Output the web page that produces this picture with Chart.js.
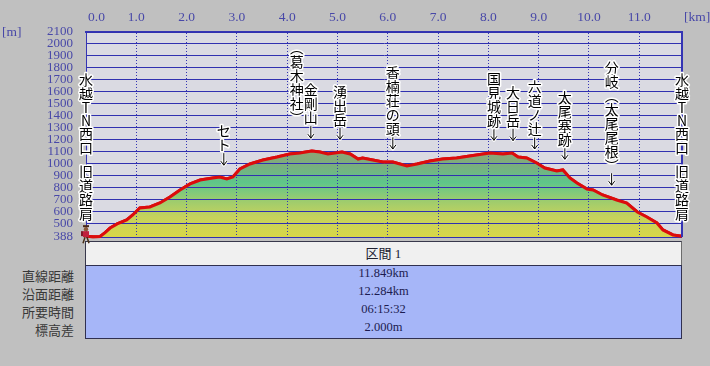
<!DOCTYPE html>
<html lang="ja">
<head>
<meta charset="utf-8">
<title>断面図</title>
<script src="https://cdn.jsdelivr.net/npm/chart.js@4.4.1/dist/chart.umd.min.js"></script>
<style>
  html, body { margin:0; padding:0; background:#c0c0c0; width:710px; height:366px; overflow:hidden; }
  #wrap { position:relative; width:710px; height:366px; }
  #grafica { position:absolute; left:0; top:0; z-index:2; pointer-events:none; }
  #cabecera { position:absolute; left:85px; top:241px; width:595px; height:23px; background:#f0f0f0;
      border:1px solid #38384c; border-right-color:#6c6c6c; border-bottom-color:#808080;
      font:13px "Liberation Serif","Noto Sans CJK JP"; color:#202030; text-align:center; line-height:23px; }
  #cuerpo { position:absolute; left:85px; top:265px; width:595px; height:72px; background:#a6b6f8;
      border:1px solid #303050; }
  #cuerpo div { height:18px; line-height:18px; text-align:center; font:12.5px "Liberation Serif"; color:#1c1c50; }
  #titulos { position:absolute; left:0; top:266px; width:74px; }
  #titulos div { height:18px; line-height:18px; text-align:right; font:13px "Noto Sans CJK JP"; color:#383838; }
</style>
</head>
<body>
<div id="wrap">
  <div id="cabecera"></div>
  <div id="cuerpo"></div>
  <div id="titulos"></div>
  <canvas id="grafica" width="710" height="366"></canvas>
</div>
<script>
// ── DATOS ─────────────────────────────────────────────
const distKm = [0.00, 0.14, 0.28, 0.38, 0.48, 0.62, 0.81, 0.93, 1.07, 1.27, 1.47, 1.67, 1.87, 2.07, 2.27,
                2.52, 2.66, 2.80, 2.92, 3.06, 3.26, 3.52, 3.80, 4.05, 4.25, 4.49, 4.65, 4.81, 5.09, 5.25,
                5.41, 5.50, 5.70, 5.90, 6.10, 6.38, 6.58, 6.84, 7.09, 7.37, 7.63, 8.03, 8.29, 8.47, 8.59,
                8.76, 8.96, 9.12, 9.36, 9.48, 9.62, 9.76, 9.96, 10.08, 10.27, 10.55, 10.75, 10.96, 11.15,
                11.35, 11.47, 11.67, 11.849];
const elevM  = [395, 390, 392, 425, 463, 497, 530, 572, 630, 639, 672, 722, 781, 831, 864,
                881, 889, 872, 889, 956, 998, 1031, 1056, 1081, 1090, 1106, 1098, 1081, 1098, 1081,
                1039, 1048, 1031, 1014, 1014, 981, 998, 1023, 1039, 1048, 1064, 1090, 1081, 1090, 1056,
                1048, 1006, 964, 939, 948, 881, 839, 789, 781, 739, 697, 672, 597, 555,
                505, 447, 405, 395];

const totalKm = 11.849;
const kmTicks = [0, 1, 2, 3, 4, 5, 6, 7, 8, 9, 10, 11];
const mTicks  = [388, 500, 600, 700, 800, 900, 1000, 1100, 1200, 1300, 1400, 1500, 1600, 1700, 1800, 1900, 2000, 2100];

const puntoNombres = ['水越TN西口 旧道路肩', 'セト', '金剛山\n(葛木神社)', '湧出岳', '香楠荘の頭', '国見城跡',
                      '大日岳', '六道ノ辻', '太尾塞跡', '分岐(太尾尾根)', '水越TN西口 旧道路肩'];
const puntoKm      = [0, 2.74, 4.47, 5.05, 6.10, 8.11, 8.49, 8.92, 9.52, 10.45, 11.849];

const seccion      = '区間 1';
const filaTitulos  = ['直線距離', '沿面距離', '所要時間', '標高差'];
const filaValores  = ['11.849km', '12.284km', '06:15:32', '2.000m'];

// ── TABLA ─────────────────────────────────────────────
document.getElementById('cabecera').textContent = seccion;
document.getElementById('cuerpo').innerHTML  = filaValores.map(v => `<div>${v}</div>`).join('');
document.getElementById('titulos').innerHTML = filaTitulos.map(t => `<div>${t}</div>`).join('');

const AZUL = '#3434b4';
const TEXTO_EJE = '#4848a8';

function elevEn(km) {
    for (let i = 1; i < distKm.length; i++) {
        if (km <= distKm[i]) {
            const t = (km - distKm[i - 1]) / (distKm[i] - distKm[i - 1]);
            return elevM[i - 1] + t * (elevM[i] - elevM[i - 1]);
        }
    }
    return elevM[elevM.length - 1];
}

function relleno(context) {
    const chart = context.chart;
    if (!chart.chartArea) return null;
    const y = chart.scales.y;
    const g = chart.ctx.createLinearGradient(0, y.getPixelForValue(388), 0, y.getPixelForValue(1150));
    g.addColorStop(0.00, '#d8d648');
    g.addColorStop(0.22, '#c6d25c');
    g.addColorStop(0.40, '#9ccc6e');
    g.addColorStop(0.60, '#5ec68a');
    g.addColorStop(0.78, '#7aae7e');
    g.addColorStop(1.00, '#96a272');
    return g;
}

// ── TEXTO VERTICAL ────────────────────────────────────
function pasoDe(c) {
    if (c === ' ') return 10;
    if (/[A-Za-z]/.test(c)) return 13;
    return 14;
}
function columna(ctx, texto, x, yFondo) {
    const chars = [...texto.replace(/\(/g, '︵').replace(/\)/g, '︶')];
    const alto = chars.reduce((s, c) => s + pasoDe(c), 0);
    let y = yFondo - alto;
    chars.forEach(c => {
        const p = pasoDe(c);
        if (c !== ' ') {
            ctx.strokeText(c, x, y + p / 2);
            ctx.fillText(c, x, y + p / 2);
        }
        y += p;
    });
}
function flecha(ctx, x, punta) {
    const trazo = () => {
        ctx.beginPath();
        ctx.moveTo(x, punta - 12); ctx.lineTo(x, punta);
        ctx.moveTo(x - 3, punta - 4); ctx.lineTo(x, punta); ctx.lineTo(x + 3, punta - 4);
        ctx.stroke();
    };
    ctx.strokeStyle = '#ffffff'; ctx.lineWidth = 3; trazo();
    ctx.strokeStyle = '#000000'; ctx.lineWidth = 1; trazo();
}

const fondo = {
    id: 'fondo',
    beforeDraw(chart) {
        const { ctx, chartArea: a } = chart;
        ctx.save();
        ctx.fillStyle = '#dadae2';
        ctx.fillRect(a.left, a.top, a.right - a.left, a.bottom - a.top);
        ctx.restore();
    }
};

const extras = {
    id: 'extras',
    afterDraw(chart) {
        const { ctx, chartArea: a, scales: { x, y } } = chart;

        // linea roja encima de la cuadricula
        chart.getDatasetMeta(1).controller.draw();

        ctx.save();
        // borde derecho
        ctx.strokeStyle = AZUL; ctx.lineWidth = 2;
        ctx.beginPath(); ctx.moveTo(a.right, a.top); ctx.lineTo(a.right, a.bottom); ctx.stroke();

        // etiquetas km arriba
        ctx.fillStyle = TEXTO_EJE;
        ctx.font = '13.5px "Liberation Serif"';
        ctx.textBaseline = 'middle';
        kmTicks.forEach(v => {
            const px = x.getPixelForValue(v);
            ctx.textAlign = v === 0 ? 'left' : 'center';
            ctx.fillText(v.toFixed(1), v === 0 ? px + 2 : px, 17);
        });
        ctx.textAlign = 'left';
        ctx.fillText('[km]', 684, 17);
        ctx.fillText('[m]', 2, 32);

        // nombres de los puntos
        ctx.textAlign = 'center';
        ctx.textBaseline = 'middle';
        ctx.lineJoin = 'round';
        puntoNombres.forEach((nombre, i) => {
            const px = x.getPixelForValue(puntoKm[i]);
            const py = y.getPixelForValue(elevEn(puntoKm[i]));
            const extremo = i === 0 || i === puntoNombres.length - 1;
            const punta = py - 13;
            const base = extremo ? py - 15 : punta - 13;
            if (!extremo) flecha(ctx, px, punta);
            ctx.font = '14px "Noto Sans CJK JP"';
            ctx.strokeStyle = '#ffffff'; ctx.lineWidth = 3;
            ctx.fillStyle = '#000000';
            nombre.split('\n').forEach((col, k) => columna(ctx, col, px - k * 14, base));
        });

        // caminante al inicio
        const hx = x.getPixelForValue(distKm[0]);
        const hy = y.getPixelForValue(elevM[0]);
        ctx.fillStyle = '#4a2a18'; ctx.fillRect(hx - 3, hy - 11, 6, 2);
        ctx.fillStyle = '#8a5a3a'; ctx.beginPath(); ctx.arc(hx, hy - 7, 2.2, 0, Math.PI * 2); ctx.fill();
        ctx.fillStyle = '#c0203c'; ctx.fillRect(hx - 3, hy - 5, 6, 6);
        ctx.fillStyle = '#801828'; ctx.fillRect(hx - 5, hy - 5, 2, 5);
        ctx.strokeStyle = '#4a3018'; ctx.lineWidth = 1.5;
        ctx.beginPath();
        ctx.moveTo(hx - 1, hy + 1); ctx.lineTo(hx - 3, hy + 7);
        ctx.moveTo(hx + 1, hy + 1); ctx.lineTo(hx + 3, hy + 7);
        ctx.stroke();
        ctx.restore();
    }
};

const puntos = distKm.map((d, i) => ({ x: d, y: elevM[i] }));

new Chart(document.getElementById('grafica'), {
    type: 'line',
    data: {
        datasets: [
            { data: puntos, fill: 'start', backgroundColor: relleno, borderColor: 'transparent', borderWidth: 0, pointRadius: 0, tension: 0 },
            { data: puntos, fill: false, borderColor: '#dc0c0c', borderWidth: 3, pointRadius: 0, tension: 0, clip: 4 }
        ]
    },
    options: {
        responsive: false,
        animation: false,
        devicePixelRatio: 1,
        events: [],
        layout: { padding: { left: 0, top: 0, right: 28, bottom: 129 } },
        plugins: { legend: { display: false }, tooltip: { enabled: false } },
        scales: {
            x: {
                type: 'linear', position: 'top', min: 0, max: totalKm,
                afterBuildTicks: s => { s.ticks = kmTicks.map(v => ({ value: v })); },
                afterFit: s => { s.height = 32; },
                ticks: { display: false },
                grid: { display: true, drawOnChartArea: true, color: AZUL, lineWidth: 1, drawTicks: false, z: 1 },
                border: { display: true, color: AZUL, width: 2, dash: [1, 2], z: 1 }
            },
            y: {
                min: 388, max: 2100,
                afterBuildTicks: s => { s.ticks = mTicks.map(v => ({ value: v })); },
                afterFit: s => { s.width = 86; },
                ticks: { autoSkip: false, padding: 13, color: TEXTO_EJE, font: { family: 'Liberation Serif', size: 13 }, callback: v => String(v) },
                grid: { display: true, drawOnChartArea: true, color: '#3030b0', lineWidth: 1, drawTicks: false, z: 1 },
                border: { display: true, color: AZUL, width: 1, z: 1 }
            }
        }
    },
    plugins: [fondo, extras]
});
</script>
</body>
</html>
